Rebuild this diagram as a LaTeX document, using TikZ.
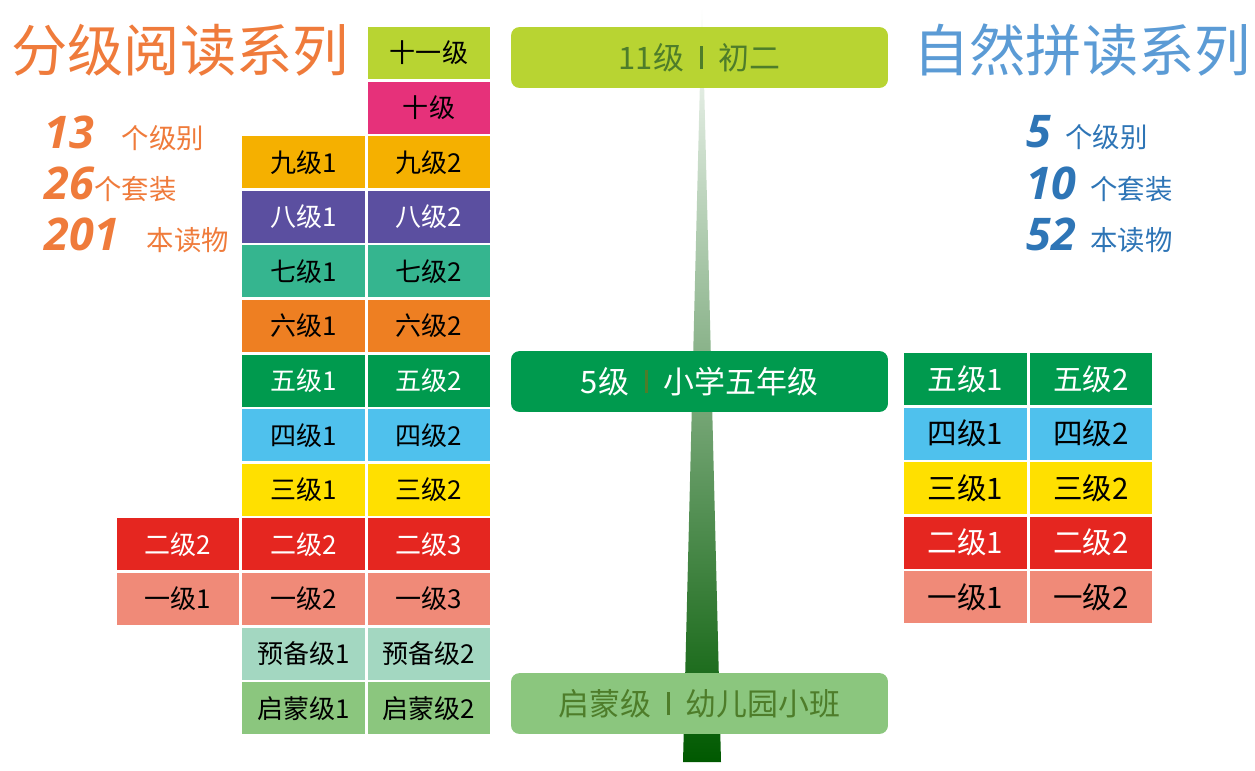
\documentclass[tikz,border=0pt]{standalone}
\usepackage{fontspec}
\setmainfont{Noto Sans CJK SC}
\newfontfamily\numfont{Open Sans}
\usetikzlibrary{positioning}
\definecolor{cYG}{HTML}{B8D432}
\definecolor{cPink}{HTML}{E6317A}
\definecolor{cGold}{HTML}{F5B000}
\definecolor{cPurple}{HTML}{5B4FA0}
\definecolor{cTeal}{HTML}{35B58F}
\definecolor{cOrange}{HTML}{EE7F22}
\definecolor{cGreen}{HTML}{009A4E}
\definecolor{cSky}{HTML}{4FC1ED}
\definecolor{cYellow}{HTML}{FFE000}
\definecolor{cRed}{HTML}{E52620}
\definecolor{cSalmon}{HTML}{F08A78}
\definecolor{cMint}{HTML}{A3D7C1}
\definecolor{cLGreen}{HTML}{8BC67E}
\definecolor{cDark}{HTML}{4E7D2A}
\definecolor{tOrange}{HTML}{EF7B3B}
\definecolor{tBlue}{HTML}{5B9BD5}
\definecolor{sBlue}{HTML}{2E75B6}
\newcommand{\sepbar}{\enspace\textcolor{cDark}{\rule[0.0em]{2.4pt}{0.75em}}\enspace}
\newcommand{\statnum}[1]{{\numfont\fontsize{32}{32}\selectfont\bfseries\itshape #1}}
\tikzset{
  cell/.style={minimum width=3.07cm,minimum height=1.3cm,inner sep=0pt,font=\fontsize{18.5}{18.5}\selectfont},
  rcell/.style={cell,font=\fontsize{21}{21}\selectfont},
  bar/.style={rounded corners=6pt,minimum width=9.42cm,minimum height=1.52cm,inner sep=0pt,font=\fontsize{22}{22}\selectfont},
  stat/.style={anchor=west,font=\fontsize{19.5}{19.5}\selectfont},
}
\begin{document}
\begin{tikzpicture}[x=0.025cm,y=-0.025cm]
  \useasboundingbox (0,0) rectangle (1255,770);

  % centre spike
  \shade[top color=white,bottom color=green!35!black]
    (702,0) -- (721,762) -- (683,762) -- cycle;

  % titles
  \node (tL) at (180,50) [text=tOrange,font=\fontsize{40}{40}\selectfont] {分级阅读系列};
  \node (tR) at (1082,50) [text=tBlue,font=\fontsize{40}{40}\selectfont] {自然拼读系列};

  % stats
  \node (sL1) at (40,133) [stat,text=tOrange] {\statnum{13}\quad 个级别};
  \node (sL2) at (40,184) [stat,text=tOrange] {\statnum{26}个套装};
  \node (sL3) at (40,235) [stat,text=tOrange] {\statnum{201}\quad 本读物};
  \node (sR1) at (1022,133) [stat,text=sBlue] {\statnum{5}\enspace 个级别};
  \node (sR2) at (1022,184) [stat,text=sBlue] {\statnum{10}\enspace 个套装};
  \node (sR3) at (1022,235) [stat,text=sBlue] {\statnum{52}\enspace 本读物};

  % left grid
  \foreach \r/\c/\col/\txt/\lab in {
      0/3/cYG/black/十一级, 1/3/cPink/black/十级,
      2/2/cGold/black/九级1, 2/3/cGold/black/九级2,
      3/2/cPurple/white/八级1, 3/3/cPurple/white/八级2,
      4/2/cTeal/black/七级1, 4/3/cTeal/black/七级2,
      5/2/cOrange/black/六级1, 5/3/cOrange/black/六级2,
      6/2/cGreen/white/五级1, 6/3/cGreen/white/五级2,
      7/2/cSky/black/四级1, 7/3/cSky/black/四级2,
      8/2/cYellow/black/三级1, 8/3/cYellow/black/三级2,
      9/1/cRed/white/二级2, 9/2/cRed/white/二级2, 9/3/cRed/white/二级3,
      10/1/cSalmon/black/一级1, 10/2/cSalmon/black/一级2, 10/3/cSalmon/black/一级3,
      11/2/cMint/black/预备级1, 11/3/cMint/black/预备级2,
      12/2/cLGreen/black/启蒙级1, 12/3/cLGreen/black/启蒙级2}
    \node (L\r-\c) at ({52.5+125.5*\c},{53+54.6*\r}) [cell,fill=\col,text=\txt] {\lab};

  % right grid
  \foreach \r/\c/\col/\txt/\lab in {
      0/1/cGreen/white/五级1, 0/2/cGreen/white/五级2,
      1/1/cSky/black/四级1, 1/2/cSky/black/四级2,
      2/1/cYellow/black/三级1, 2/2/cYellow/black/三级2,
      3/1/cRed/white/二级1, 3/2/cRed/white/二级2,
      4/1/cSalmon/black/一级1, 4/2/cSalmon/black/一级2}
    \node (R\r-\c) at ({840+125.5*\c},{379+54.5*\r}) [cell,rcell,fill=\col,text=\txt] {\lab};

  % stage bars
  \node (b11) at (699.5,57.5) [bar,fill=cYG,text=cDark] {11级\sepbar 初二};
  \node (b5) at (699.5,381.5) [bar,fill=cGreen,text=white] {5级\sepbar 小学五年级};
  \node (b0) at (699.5,703.5) [bar,fill=cLGreen,text=cDark] {启蒙级\sepbar 幼儿园小班};
\end{tikzpicture}
\end{document}
